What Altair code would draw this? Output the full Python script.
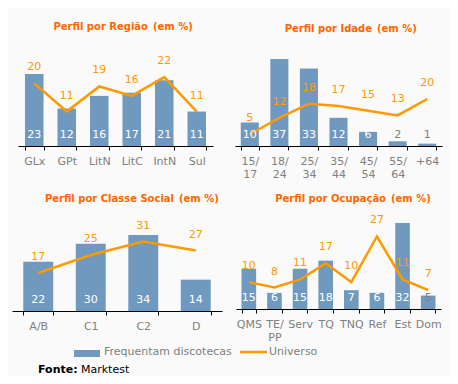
import altair as alt
import pandas as pd

# ---------------- data ----------------
reg_cats = ["GLx", "GPt", "LitN", "LitC", "IntN", "Sul"]
reg_freq = [23, 12, 16, 17, 21, 11]
reg_univ = [20, 11, 19, 16, 22, 11]

age_cats = ["15/17", "18/24", "25/34", "35/44", "45/54", "55/64", "+64"]
age_freq = [10, 37, 33, 12, 6, 2, 1]
age_univ = [5, 12, 18, 17, 15, 13, 20]

cls_cats = ["A/B", "C1", "C2", "D"]
cls_freq = [22, 30, 34, 14]
cls_univ = [17, 25, 31, 27]

occ_cats = ["QMS", "TE/PP", "Serv", "TQ", "TNQ", "Ref", "Est", "Dom"]
occ_freq = [15, 6, 15, 18, 7, 6, 32, 5]
occ_univ = [10, 8, 11, 17, 10, 27, 11, 7]

titles = ["Perfil por Região", "Perfil por Idade", "Perfil por Classe Social", "Perfil por Ocupação"]
title_unit = "(em %)"
legend_labels = ["Frequentam discotecas", "Universo"]
source_label = "Fonte:"
source_name = "Marktest"

# ---------------- style ----------------
BLUE = "#6F99BF"
ORANGE = "#FF9900"
TITLE = "#FF6600"
GRAY = "#808080"
FONT = "DejaVu Sans"
W, H = 442, 368

TWO_LINE = ("indexof(datum.label, '/') > 0 ? "
            "[slice(datum.label, 0, indexof(datum.label, '/') + 1), "
            "slice(datum.label, indexof(datum.label, '/') + 1)] : datum.label")


def panel(cats, freq, univ, xr, base, top, ymax, pin, twoline):
    df = pd.DataFrame({"cat": cats, "freq": freq, "univ": univ})
    axis_kw = dict(orient="bottom", offset=base - H, title=None, labelAngle=0,
                   tickBand="extent", domainColor="black", tickColor="black",
                   tickSize=4, labelColor=GRAY, labelFontSize=11, labelPadding=5,
                   labelLineHeight=13, grid=False, labelFont=FONT)
    if twoline:
        axis_kw["labelExpr"] = TWO_LINE
    x = alt.X("cat:N", sort=cats,
              scale=alt.Scale(domain=cats, range=list(xr), paddingInner=pin,
                              paddingOuter=pin / 2),
              axis=alt.Axis(**axis_kw))
    ysc = alt.Scale(domain=[0, ymax], range=[base, top], nice=False, zero=True)
    bars = alt.Chart(df).mark_bar(color=BLUE).encode(
        x=x, y=alt.Y("freq:Q", scale=ysc, axis=None))
    line = alt.Chart(df).mark_line(color=ORANGE, strokeWidth=2.5).encode(
        x=x, y=alt.Y("univ:Q", scale=ysc, axis=None))
    blab = alt.Chart(df).mark_text(dy=-11, fontSize=11, font=FONT).encode(
        x=x, y=alt.YDatum(0, scale=ysc, axis=None), text="freq:Q",
        color=alt.condition("datum.freq >= 6", alt.value("white"), alt.value(GRAY)))
    ulab = alt.Chart(df).mark_text(dy=-16, fontSize=11, font=FONT, color=ORANGE).encode(
        x=x, y=alt.Y("univ:Q", scale=ysc, axis=None), text="univ:Q")
    return alt.layer(bars, line, blab, ulab)


p1 = panel(reg_cats, reg_freq, reg_univ, (10, 205), 138, 44, 30, 0.43, False)
p2 = panel(age_cats, age_freq, age_univ, (227, 434), 138, 44, 40, 0.39, True)
p3 = panel(cls_cats, cls_freq, cls_univ, (4, 214), 303, 209, 42, 0.43, False)
p4 = panel(occ_cats, occ_freq, occ_univ, (228, 433), 301, 207, 35, 0.43, True)

dummy = pd.DataFrame({"a": [1]})


def txt(s, x, y, align="left", size=11, weight="normal", color="black"):
    return alt.Chart(dummy).mark_text(align=align, baseline="middle", fontSize=size,
                                      fontWeight=weight, font=FONT, color=color).encode(
        x=alt.value(x), y=alt.value(y), text=alt.value(s))


decor = []
title_pos = [(140, 19), (364, 21), (166, 191), (378, 191)]
for t, (xe, yc) in zip(titles, title_pos):
    decor.append(txt(t, xe, yc, align="right", size=10, weight="bold", color=TITLE))
    decor.append(txt(title_unit, xe + 5, yc, align="left", size=10, weight="bold", color=TITLE))

decor.append(alt.Chart(dummy).mark_rect(color=BLUE).encode(
    x=alt.value(66), x2=alt.value(92), y=alt.value(342), y2=alt.value(349)))
decor.append(txt(legend_labels[0], 96, 344, color=GRAY))
decor.append(alt.Chart(dummy).mark_rule(color=ORANGE, strokeWidth=2.5).encode(
    x=alt.value(232), x2=alt.value(259), y=alt.value(344)))
decor.append(txt(legend_labels[1], 261, 344, color=GRAY))
decor.append(txt(source_label, 30, 362, weight="bold"))
decor.append(txt(source_name, 73, 362))

chart = alt.layer(p1, p2, p3, p4, *decor).resolve_scale(
    x="independent", y="independent"
).properties(
    width=W, height=H, padding=0, background="#FAFAFA"
).configure_view(stroke=None)

chart.save("out.html", embed_options={"renderer": "svg", "actions": False})
